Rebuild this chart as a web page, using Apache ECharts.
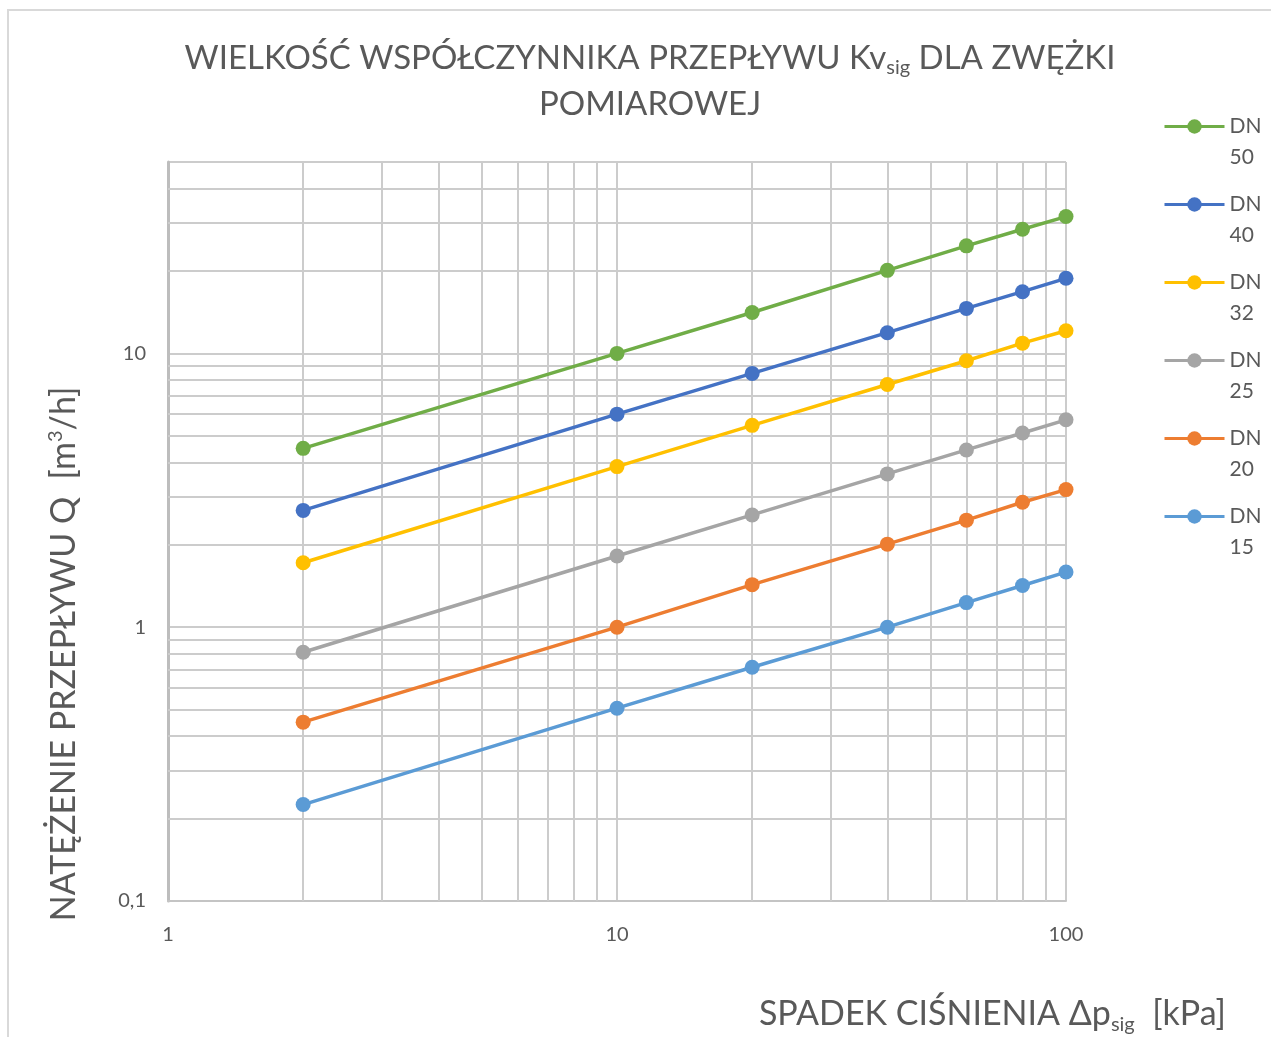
<!DOCTYPE html>
<html>
<head>
<meta charset="utf-8">
<title>Kv sig</title>
<script src="https://cdn.jsdelivr.net/npm/echarts@6/dist/echarts.min.js"></script>
<style>
  html, body { margin: 0; padding: 0; background: #fff; }
  #main { width: 1271px; height: 1037px; }
</style>
</head>
<body>
<div id="main"></div>
<script>
// spadek ciśnienia [kPa]
var pressureDrop = [2, 10, 20, 40, 60, 80, 100];

// natężenie przepływu Q [m3/h] dla poszczególnych średnic
var dn50 = [4.5, 10.0, 14.1, 20.1, 24.7, 28.4, 31.6];
var dn40 = [2.67, 6.0, 8.45, 11.9, 14.6, 16.8, 18.8];
var dn32 = [1.72, 3.86, 5.46, 7.7, 9.4, 10.9, 12.1];
var dn25 = [0.81, 1.82, 2.57, 3.63, 4.44, 5.12, 5.72];
var dn20 = [0.45, 1.0, 1.43, 2.01, 2.46, 2.86, 3.18];
var dn15 = [0.225, 0.506, 0.714, 1.0, 1.23, 1.42, 1.59];

var seriesNames = ['DN 50', 'DN 40', 'DN 32', 'DN 25', 'DN 20', 'DN 15'];
var seriesValues = [dn50, dn40, dn32, dn25, dn20, dn15];
var seriesColors = ['#70AD47', '#4472C4', '#FFC000', '#A5A5A5', '#ED7D31', '#5B9BD5'];

// linie siatki pomocniczej (log)
var xMinorGrid = [2, 3, 4, 5, 6, 7, 8, 9, 20, 30, 40, 50, 60, 70, 80, 90];
var yMinorGrid = [0.2, 0.3, 0.4, 0.5, 0.6, 0.7, 0.8, 0.9, 2, 3, 4, 5, 6, 7, 8, 9, 20, 30, 40];

var font = 'Lato';
var textColor = '#595959';
var gridColor = '#cccccc';

var chart = echarts.init(document.getElementById('main'));

var series = seriesNames.map(function (name, i) {
  return {
    name: name,
    type: 'line',
    z: 3,
    symbol: 'circle',
    symbolSize: 15,
    lineStyle: { width: 3.5, color: seriesColors[i] },
    itemStyle: { color: seriesColors[i] },
    data: pressureDrop.map(function (x, j) { return [x, seriesValues[i][j]]; })
  };
});

// siatka pomocnicza
var gridLines = [];
xMinorGrid.forEach(function (v) { gridLines.push({ xAxis: v }); });
yMinorGrid.forEach(function (v) { gridLines.push({ yAxis: v }); });
series.push({
  name: 'grid',
  type: 'line',
  z: 1,
  data: [[1, 0.1]],
  symbol: 'none',
  lineStyle: { width: 0 },
  silent: true,
  markLine: {
    silent: true,
    z: 1,
    symbol: 'none',
    label: { show: false },
    animation: false,
    lineStyle: { color: gridColor, width: 2, type: 'solid' },
    data: gridLines
  }
});

var option = {
  animation: false,
  textStyle: { fontFamily: font },
  title: {
    text: 'WIELKOŚĆ WSPÓŁCZYNNIKA PRZEPŁYWU Kv{sub|sig} DLA ZWĘŻKI\nPOMIAROWEJ',
    left: 645,
    textAlign: 'center',
    top: 30,
    textStyle: {
      fontFamily: font,
      fontSize: 33,
      fontWeight: 'normal',
      color: textColor,
      lineHeight: 46,
      rich: {
        sub: { fontFamily: font, fontSize: 20, color: textColor, padding: [20, 0, 0, 0], lineHeight: 46 }
      }
    }
  },
  legend: {
    orient: 'vertical',
    left: 1158,
    top: 75,
    itemGap: -15,
    itemWidth: 60,
    itemHeight: 18,
    data: seriesNames,
    lineStyle: { width: 3 },
    formatter: function (name) { return ' \n' + name.replace(' ', '\n'); },
    textStyle: { fontFamily: font, fontSize: 21, color: textColor, lineHeight: 31, padding: [0, 0, 0, 0] }
  },
  grid: { left: 168, right: 205, top: 162, bottom: 136, containLabel: false },
  xAxis: {
    type: 'log',
    logBase: 10,
    min: 1,
    max: 100,
    axisLine: { show: true, lineStyle: { color: '#c4c4c4', width: 2 } },
    axisTick: { show: false },
    splitLine: { show: true, lineStyle: { color: gridColor, width: 2 } },
    axisLabel: { margin: 24, fontSize: 20, color: textColor, fontFamily: font }
  },
  yAxis: {
    type: 'log',
    logBase: 10,
    min: 0.1,
    max: 50,
    axisLine: { show: true, lineStyle: { color: '#bdbdbd', width: 3 } },
    axisTick: { show: false },
    splitLine: { show: true, lineStyle: { color: gridColor, width: 2 } },
    axisLabel: {
      margin: 22,
      fontSize: 20,
      color: textColor,
      fontFamily: font,
      showMaxLabel: false,
      formatter: function (v) { return String(v).replace('.', ','); }
    }
  },
  graphic: [
    {
      type: 'rect',
      silent: true,
      z: -10,
      shape: { x: 8, y: 10, width: 1400, height: 1200 },
      style: { fill: 'none', stroke: '#d9d9d9', lineWidth: 2 }
    },
    {
      type: 'text',
      x: 64,
      y: 654,
      rotation: Math.PI / 2,
      style: {
        text: 'NATĘŻENIE PRZEPŁYWU Q  [m{sup|3}/h]',
        fontFamily: font,
        fontSize: 34,
        fill: textColor,
        align: 'center',
        verticalAlign: 'middle',
        rich: {
          sup: { fontFamily: font, fontSize: 20, fill: textColor, padding: [0, 0, 16, 0] }
        }
      }
    },
    {
      type: 'text',
      x: 1226,
      y: 1014,
      style: {
        text: 'SPADEK CIŚNIENIA Δp{sub|sig}  [kPa]',
        fontFamily: font,
        fontSize: 34,
        fill: textColor,
        align: 'right',
        verticalAlign: 'middle',
        rich: {
          sub: { fontFamily: font, fontSize: 20, fill: textColor, padding: [22, 0, 0, 0] }
        }
      }
    }
  ],
  series: series
};

chart.setOption(option);
</script>
</body>
</html>
